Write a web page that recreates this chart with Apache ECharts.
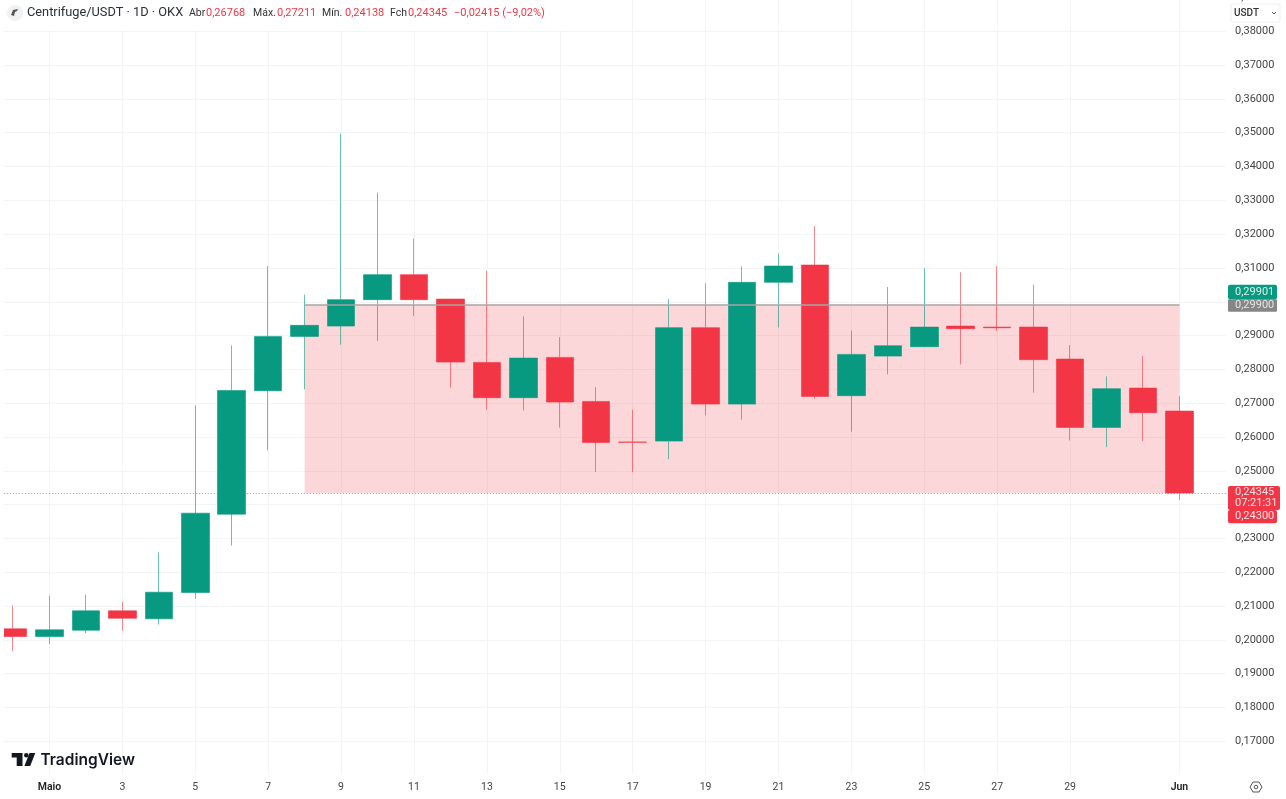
<!DOCTYPE html>
<html><head><meta charset="utf-8">
<style>html,body{margin:0;padding:0;background:#fff}#c{width:1286px;height:799px}</style>
<script src="https://cdn.jsdelivr.net/npm/echarts@6/dist/echarts.min.js"></script>
</head><body><div id="c"></div>
<script>
const categories=['04-30','05-01','05-02','05-03','05-04','05-05','05-06','05-07','05-08','05-09','05-10','05-11','05-12','05-13','05-14','05-15','05-16','05-17','05-18','05-19','05-20','05-21','05-22','05-23','05-24','05-25','05-26','05-27','05-28','05-29','05-30','05-31','06-01','06-02'];
const tickLabels=['','Maio','','3','','5','','7','','9','','11','','13','','15','','17','','19','','21','','23','','25','','27','','29','','','Jun',''];
// [open, close, low, high]
const ohlc=[
[0.20328,0.20101,0.19666,0.21018],
[0.20101,0.20299,0.19873,0.21305],
[0.20287,0.20861,0.20198,0.21343],
[0.20861,0.20642,0.20269,0.21127],
[0.20624,0.21411,0.20455,0.22586],
[0.21402,0.23748,0.21216,0.26935],
[0.23719,0.27379,0.22793,0.28710],
[0.27370,0.28976,0.25603,0.31056],
[0.28976,0.29302,0.27408,0.30210],
[0.29281,0.30062,0.28731,0.34973],
[0.30062,0.30802,0.28837,0.33228],
[0.30802,0.30062,0.29577,0.31867],
[0.30080,0.28216,0.27459,0.30080],
[0.28207,0.27163,0.26808,0.30920],
[0.27163,0.28334,0.26787,0.29568],
[0.28355,0.27033,0.26275,0.28955],
[0.27053,0.25840,0.24961,0.27476],
[0.25852,0.25846,0.24961,0.26808],
[0.25879,0.29234,0.25346,0.30080],
[0.29234,0.26973,0.26639,0.30544],
[0.26973,0.30574,0.26512,0.31047],
[0.30574,0.31056,0.29243,0.31423],
[0.31086,0.27201,0.27133,0.32240],
[0.27222,0.28444,0.26157,0.29145],
[0.28393,0.28701,0.27852,0.30435],
[0.28672,0.29251,0.28672,0.30988],
[0.29281,0.29204,0.28148,0.30870],
[0.29251,0.29230,0.29133,0.31056],
[0.29251,0.28287,0.27311,0.30506],
[0.28305,0.26284,0.25900,0.28719],
[0.26284,0.27429,0.25701,0.27793],
[0.27447,0.26719,0.25879,0.28394],
[0.26768,0.24345,0.24138,0.27211],
['-','-','-','-']
];
const lastPrice=0.24345, boxTop=0.299, boxStart='05-08', boxEnd='06-01';
const GREEN='#089981', RED='#F23645', FONT='Roboto, Inter, sans-serif';
const chart=echarts.init(document.getElementById('c'),null,{renderer:'canvas'});
const fmt=v=>v.toFixed(5).replace('.',',');
chart.setOption({
 animation:false,backgroundColor:'#fff',
 grid:{left:-5.2,right:51.9,top:-2.6,bottom:23.8,containLabel:false,outerBoundsMode:'none'},
 xAxis:{type:'category',data:categories,boundaryGap:true,
  axisLine:{show:false},axisTick:{show:false},
  splitLine:{show:true,alignWithLabel:true,interval:(i)=>tickLabels[i]!=='',lineStyle:{color:'#f3f4f6',width:1}},
  axisLabel:{interval:(i)=>tickLabels[i]!=='',margin:7,fontFamily:FONT,fontSize:10.5,color:'#444',
   formatter:(v,i)=>{const t=tickLabels[i];return /^[A-Z]/.test(t)?'{b|'+t+'}':t},
   rich:{b:{fontFamily:FONT,fontSize:10.5,fontWeight:600,color:'#222'}}}},
 yAxis:{type:'value',position:'right',min:0.16,max:0.39,interval:0.01,scale:true,
  axisLine:{show:false},axisTick:{show:false},
  splitLine:{show:true,lineStyle:{color:'#f3f4f6',width:1}},
  axisLabel:{margin:1,fontFamily:FONT,fontSize:11,color:'#444',formatter:v=>(Math.abs(v-0.16)<1e-6?'':fmt(v))}},
 series:[{type:'candlestick',data:ohlc,barWidth:28,
  itemStyle:{color:GREEN,color0:RED,borderColor:'rgba(8,153,129,0.6)',borderColor0:'rgba(242,54,69,0.6)',borderWidth:1},
  markArea:{silent:true,itemStyle:{color:'rgba(242,54,69,0.2)'},
   data:[[{xAxis:boxStart,yAxis:boxTop},{xAxis:boxEnd,yAxis:lastPrice}]]},
  markLine:{silent:true,symbol:'none',label:{show:false},animation:false,
   data:[
    [{coord:[boxStart,boxTop],lineStyle:{color:'#a8a4a4',width:1.5,type:'solid'}},{coord:[boxEnd,boxTop]}]
   ]}
 },{type:'line',data:[],silent:true,symbol:'none',
  markLine:{silent:true,symbol:'none',label:{show:false},animation:false,precision:5,
   data:[{yAxis:lastPrice,lineStyle:{color:RED,width:1,type:[1,2],opacity:0.7}}]}
 }]
});
const py=v=>chart.convertToPixel({yAxisIndex:0},v);
const txt=(x,y,t,fill,size,weight,extra)=>({type:'text',z:110,silent:true,style:Object.assign({x,y,text:t,fill:fill,font:(weight||400)+' '+size+'px '+FONT,textVerticalAlign:'middle'},extra||{})});
const rect=(x,y,w,h,fill,r,z)=>({type:'rect',z:z||105,silent:true,shape:{x,y,width:w,height:h,r:r||0},style:{fill}});
const yP=py(0.299),yL=py(lastPrice);
const els=[
 rect(0,0,4,799,'#fff'),rect(1226,0,8,776,'#fff'),rect(4,0,560,30,'#fff'),rect(0,773.5,1234,3,'#fff'),
 // header
 {type:'circle',z:106,silent:true,shape:{cx:15,cy:13,r:8},style:{fill:'#f0f1f3'}},
 {type:'polygon',z:107,silent:true,shape:{points:[[11,15],[13,10],[18,9],[17,11],[15,12],[14,16]]},style:{fill:'#555'}},
 txt(27,13,'Centrifuge/USDT · 1D · OKX','#2a2e39',12.8),
 txt(189,13,'Abr','#333',10.5),txt(206,13,'0,26768',RED,11),
 txt(253,13,'Máx.','#333',10.5),txt(277,13,'0,27211',RED,11),
 txt(322,13,'Mín.','#333',10.5),txt(345,13,'0,24138',RED,11),
 txt(390,13,'Fch','#333',10.5),txt(408,13,'0,24345',RED,11),
 txt(454,13,'−0,02415 (−9,02%)',RED,11),
 // currency box
 {type:'rect',z:105,silent:true,shape:{x:1231,y:4,width:49,height:18,r:2},style:{fill:'#fff',stroke:'#eceef1',lineWidth:1}},
 txt(1234,13,'USDT','#333',10,500),
 {type:'polyline',z:106,silent:true,shape:{points:[[1272,12],[1274,14],[1276,12]]},style:{stroke:'#555',fill:'none',lineWidth:1}},
 // price tags
 rect(1228,yP-20.3,49,14.3,GREEN,2),txt(1235,yP-13,'0,29901','#d8f3ec',11),
 rect(1228,yP-6,49,12.6,'#868686',1),txt(1235,yP,'0,29900','#e6e6e6',11),
 rect(1228,yL-7,52,24,RED,2),rect(1228,yL+17,49,13.3,RED,2),
 txt(1235,yL-1,'0,24345','#fde3e5',11),txt(1235,yL+10,'07:21:31','#fde3e5',11),txt(1235,yL+23,'0,24300','#fde3e5',11),
 // logo
 {type:'polygon',z:106,silent:true,shape:{points:[[11.7,753],[22.5,753],[22.5,766],[16.7,766],[16.7,757.5],[11.7,757.5]]},style:{fill:'#131722'}},
 {type:'circle',z:106,silent:true,shape:{cx:26.3,cy:755.3,r:2.3},style:{fill:'#131722'}},
 {type:'polygon',z:106,silent:true,shape:{points:[[29.5,753],[35.3,753],[30.2,766],[24.4,766]]},style:{fill:'#131722'}},
 txt(40.5,760,'TradingView','#131722',15.5,600,{font:'600 15.5px Inter, sans-serif'}),
 // settings
 {type:'polygon',z:106,silent:true,shape:{points:[[1250,787],[1253,782],[1259,782],[1262,787],[1259,792],[1253,792]]},style:{fill:'none',stroke:'#555',lineWidth:1}},
 {type:'circle',z:106,silent:true,shape:{cx:1256,cy:787,r:1.8},style:{fill:'none',stroke:'#555',lineWidth:1}}
];
chart.setOption({graphic:{elements:els}});
</script></body></html>
